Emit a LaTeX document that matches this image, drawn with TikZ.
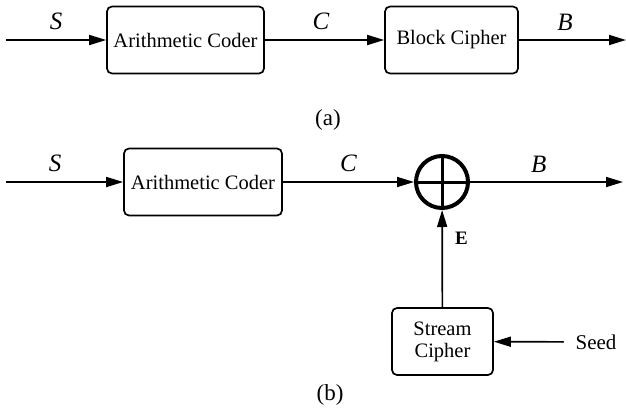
\documentclass[tikz,border=0pt]{standalone}
\usepackage{fontspec}
\setmainfont{Liberation Serif}
\usetikzlibrary{arrows.meta,calc}
\def\blockh{67pt}
\def\labelgap{9pt}

\begin{document}
\begin{tikzpicture}[x=1pt, y=-1pt, line width=1.7pt,
                      block/.style={draw, rounded corners=5pt, minimum height=\blockh, inner sep=0pt,
                                    align=center, font=\fontsize{20.5}{24}\selectfont},
                      flow/.style={-{Triangle[length=17pt,width=10pt]}},
                      sig/.style={above=\labelgap, inner sep=0pt, font=\fontsize{25}{28}\selectfont\itshape},
                      caption/.style={font=\fontsize{23}{26}\selectfont},
                      xor/.style={circle, draw, line width=4pt, minimum size=52pt, inner sep=0pt,
                                  path picture={\draw[line width=3pt]
                                    (path picture bounding box.north) -- (path picture bounding box.south)
                                    (path picture bounding box.west) -- (path picture bounding box.east);}}]
    \useasboundingbox (0,0) rectangle (626,413);
    % (a) coder followed by block cipher
    \coordinate (inA) at (6,40);
    \node[block, minimum width=157pt] (coderA) at (185.5,40) {Arithmetic Coder};
    \node[block, minimum width=133pt] (cipherA) at (451.5,40) {Block Cipher};
    \coordinate (outA) at (626,40);
    \draw[flow] (inA) -- (coderA);
    \draw[flow] (coderA) -- (cipherA);
    \draw[flow] (cipherA) -- (outA);
    \node[sig] (sA) at ($(inA)!.5!(coderA.west)$) {S};
    \node[sig] (cA) at ($(coderA.east)!.47!(cipherA.west)$) {C};
    \node[sig] (bA) at ($(cipherA.east)!.43!(outA)$) {B};
    \node[caption] (capA) at (328,120) {(a)};
    %
    % (b) coder followed by stream cipher xor
    \coordinate (inB) at (6,182);
    \node[block, minimum width=158pt] (coderB) at (203,182) {Arithmetic Coder};
    \node[xor] (sum) at (442,182) {};
    \coordinate (outB) at (623,182);
    \node[block, minimum width=101pt] (stream) at (442.5,341.5) {Stream\\[-2pt]Cipher};
    \node[font=\fontsize{21}{24}\selectfont, inner xsep=11pt, inner ysep=0pt] (seed) at (596,342) {Seed};
    \draw[flow] (inB) -- (coderB);
    \draw[flow] (coderB) -- (sum);
    \draw[flow] (sum) -- (outB);
    \draw[flow] (stream) -- (sum) node[pos=.71, right=12pt, inner sep=0pt, font=\fontsize{19}{21}\selectfont\bfseries] (e) {E};
    \draw[flow] (seed) -- (stream);
    \node[sig] (sB) at ($(inB)!.42!(coderB.west)$) {S};
    \node[sig] (cB) at ($(coderB.east)!.5!(sum.west)$) {C};
    \node[sig] (bB) at ($(sum.east)!.45!(outB)$) {B};
    \node[caption] (capB) at (330,395) {(b)};
\end{tikzpicture}
\end{document}
